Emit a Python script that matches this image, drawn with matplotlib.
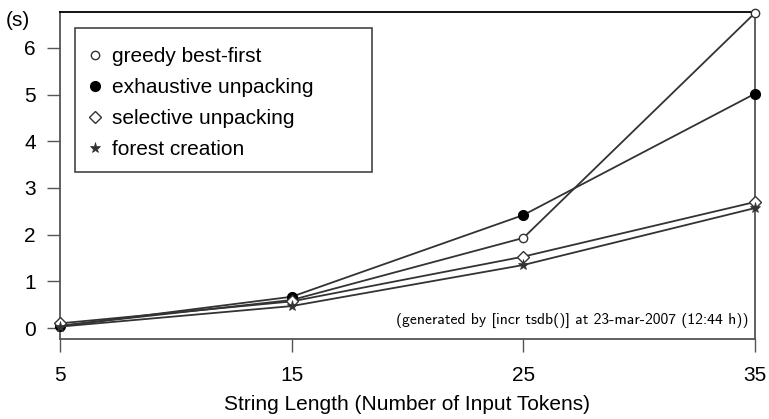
import matplotlib
matplotlib.use('Agg')
import matplotlib.pyplot as plt
from matplotlib.lines import Line2D
from matplotlib.patches import Rectangle

# string length (input tokens) vs. time in seconds
lengths = [5, 15, 25, 35]
greedy = [0.05, 0.60, 1.93, 6.75]
exhaustive = [0.04, 0.67, 2.42, 5.02]
selective = [0.10, 0.57, 1.53, 2.70]
forest = [0.03, 0.47, 1.35, 2.57]

labels = ['greedy best-first', 'exhaustive unpacking',
          'selective unpacking', 'forest creation']
yticks = [0, 1, 2, 3, 4, 5, 6]

plt.rcParams['font.family'] = ['Liberation Sans', 'DejaVu Sans']

W, H = 769, 419
AX_L, AX_T, AX_W, AX_H = 60.0, 12.0, 695.0, 327.0
fig = plt.figure(figsize=(W / 100.0, H / 100.0), dpi=100)
ax = fig.add_axes([AX_L / W, (H - AX_T - AX_H) / H, AX_W / W, AX_H / H])

lc = '#333333'
styles = [
    dict(marker='o', ms=6, mfc='white', mec=lc, mew=1.0),
    dict(marker='o', ms=7, mfc='black', mec='black', mew=1.0),
    dict(marker='D', ms=6, mfc='white', mec=lc, mew=1.0),
    dict(marker='*', ms=8, mfc=lc, mec=lc, mew=0.5),
]
series = [greedy, exhaustive, selective, forest]

handles = []
for vals, st, lab in zip(series, styles, labels):
    ax.plot(lengths, vals, color=lc, lw=1.3, clip_on=False, zorder=3, **st)
    handles.append(Line2D([], [], linestyle='none', **st))

ax.set_xlim(5, 35)
ax.set_ylim(-0.235, 6.77)
ax.set_xticks(lengths)
ax.set_yticks(yticks)
ax.tick_params(axis='both', direction='out', length=9.5, width=1.0,
               color='#555555', labelsize=15)
ax.tick_params(axis='y', pad=8)
ax.tick_params(axis='x', pad=10)

for side in ['left', 'right', 'bottom']:
    ax.spines[side].set_color('#555555')
    ax.spines[side].set_linewidth(1.3)
ax.spines['top'].set_color('black')
ax.spines['top'].set_linewidth(1.3)

ax.set_xlabel('String Length (Number of Input Tokens)', fontsize=15, labelpad=7)
fig.text(18.0 / W, (H - 20.0) / H, '(s)', fontsize=15, ha='center', va='center')


def px(x, y):
    # pixel position (from top-left of figure) -> axes fraction
    return (x - AX_L) / AX_W, 1 - (y - AX_T) / AX_H


# legend box
bx0, by0 = px(75, 172)
bx1, by1 = px(372, 28)
ax.add_patch(Rectangle((bx0, by0), bx1 - bx0, by1 - by0, transform=ax.transAxes,
                       facecolor='white', edgecolor='#444444', lw=1.2, zorder=4))

leg = ax.legend(handles, labels, loc='upper left',
                bbox_to_anchor=px(88, 47),
                borderaxespad=0, borderpad=0, fontsize=15, frameon=False,
                handlelength=0.7, handletextpad=0.45, labelspacing=0.58)
leg.set_zorder(5)

ax.text(0.99, 0.035, '(generated by [incr tsdb()] at 23-mar-2007 (12:44 h))',
        transform=ax.transAxes, ha='right', va='bottom', fontsize=11.3,
        family=['cmss10', 'DejaVu Sans'])

fig.savefig('out.png', dpi=100)
